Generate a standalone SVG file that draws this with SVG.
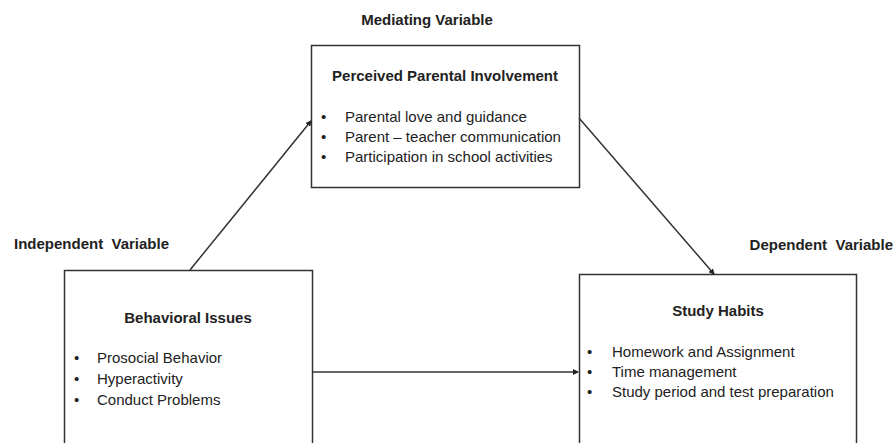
<svg xmlns="http://www.w3.org/2000/svg" width="894" height="443" viewBox="0 0 894 443">
<defs>
<style>
.box{fill:#fff;stroke:#333;stroke-width:1.5}
.t{font-family:"Liberation Sans",Arial,sans-serif;fill:#222;font-size:15px}
.h{font-weight:bold}
.lbl{font-weight:bold;white-space:pre}
.c{stroke:#333;stroke-width:1.5;fill:none;marker-end:url(#ah)}
</style>
<marker id="ah" viewBox="0 0 6 6" refX="5" refY="3" markerWidth="4" markerHeight="4" orient="auto" markerUnits="strokeWidth">
<path d="M0,0 L6,3 L0,6 z" fill="#222"/>
</marker>
</defs>
<rect width="894" height="443" fill="#fff"/>
<g id="labels">
<text class="t lbl" x="427" y="25" text-anchor="middle">Mediating Variable</text>
<text class="t lbl" x="14" y="249" xml:space="preserve">Independent  Variable</text>
<text class="t lbl" x="893" y="250" text-anchor="end" xml:space="preserve">Dependent  Variable</text>
</g>
<g id="mediator">
<rect class="box" x="311.5" y="45.5" width="268" height="142"/>
<text class="t h" x="445" y="81" text-anchor="middle">Perceived Parental Involvement</text>
<text class="t" x="321" y="122">•</text>
<text class="t" x="345" y="122">Parental love and guidance</text>
<text class="t" x="321" y="142">•</text>
<text class="t" x="345" y="142">Parent – teacher communication</text>
<text class="t" x="321" y="162">•</text>
<text class="t" x="345" y="162">Participation in school activities</text>
</g>
<g id="independent">
<rect class="box" x="64.5" y="270.5" width="248" height="190"/>
<text class="t h" x="188" y="323" text-anchor="middle">Behavioral Issues</text>
<text class="t" x="74" y="363">•</text>
<text class="t" x="97" y="363">Prosocial Behavior</text>
<text class="t" x="74" y="384">•</text>
<text class="t" x="97" y="384">Hyperactivity</text>
<text class="t" x="74" y="405">•</text>
<text class="t" x="97" y="405">Conduct Problems</text>
</g>
<g id="dependent">
<rect class="box" x="579.5" y="274.5" width="277" height="190"/>
<text class="t h" x="718" y="316" text-anchor="middle">Study Habits</text>
<text class="t" x="587" y="357">•</text>
<text class="t" x="612" y="357">Homework and Assignment</text>
<text class="t" x="587" y="377">•</text>
<text class="t" x="612" y="377">Time management</text>
<text class="t" x="587" y="397">•</text>
<text class="t" x="612" y="397">Study period and test preparation</text>
</g>
<g id="connectors">
<line class="c" x1="190" y1="270" x2="311" y2="121"/>
<line class="c" x1="579" y1="118" x2="714" y2="274"/>
<line class="c" x1="312" y1="372" x2="578" y2="372"/>
</g>
</svg>
